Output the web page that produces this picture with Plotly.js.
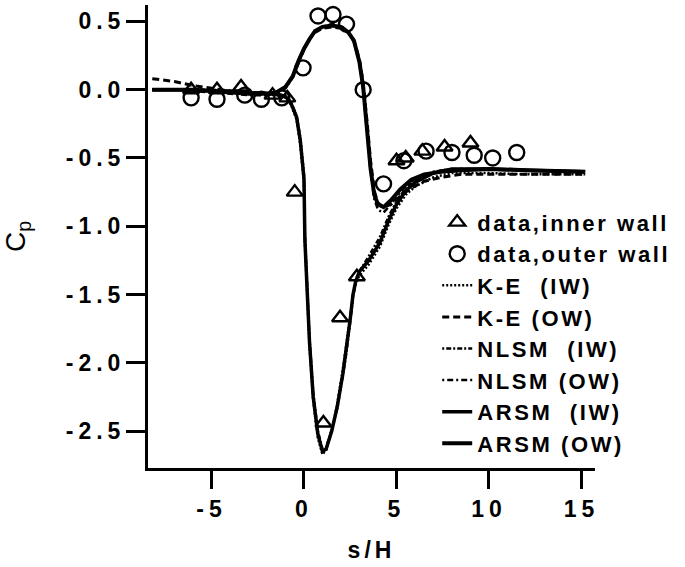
<!DOCTYPE html>
<html>
<head>
<meta charset="utf-8">
<script src="https://cdn.plot.ly/plotly-3.0.1.min.js"></script>
<style>
  html, body { margin: 0; padding: 0; background: #fff; }
  #chart { width: 685px; height: 567px; }
  .xtick text, .ytick text { letter-spacing: 5px; }
  .legendtext { letter-spacing: 2.6px; }
  .xtitle { letter-spacing: 4px; }
</style>
</head>
<body>
<div id="chart"></div>
<script>
// ---- data ----
// outer wall (OW) model curves
const sOW = [-8.2,-7,-6,-5,-4,-3,-2,-1.5,-1,-0.6,-0.3,0,0.3,0.6,1.0,1.5,2.0,2.4,2.7,3.0,3.2,3.4,3.6,3.8,4.0,4.3,4.7,5.2,5.8,6.5,7.5,8.5,10,12,15.2];
const cpKE_OW   = [0.08,0.06,0.03,0.01,-0.01,-0.02,-0.03,-0.02,0.02,0.10,0.21,0.30,0.37,0.42,0.45,0.46,0.45,0.42,0.36,0.22,0.05,-0.22,-0.52,-0.74,-0.83,-0.86,-0.84,-0.78,-0.72,-0.67,-0.64,-0.62,-0.62,-0.62,-0.62];
const cpNLSM_OW = [0.0,0.0,-0.01,-0.02,-0.03,-0.04,-0.04,-0.03,0.01,0.09,0.19,0.29,0.37,0.43,0.46,0.48,0.47,0.42,0.35,0.19,0.0,-0.30,-0.60,-0.80,-0.88,-0.90,-0.84,-0.75,-0.67,-0.62,-0.59,-0.58,-0.58,-0.59,-0.60];
const cpARSM_OW = [0.0,0.0,0.0,-0.01,-0.02,-0.03,-0.03,-0.02,0.02,0.10,0.21,0.30,0.37,0.43,0.46,0.47,0.46,0.42,0.36,0.20,0.02,-0.26,-0.58,-0.77,-0.84,-0.86,-0.81,-0.73,-0.66,-0.62,-0.60,-0.59,-0.58,-0.59,-0.60];

// inner wall (IW) model curves
const sIW = [-8.2,-7,-6,-5,-4,-3,-2,-1.5,-1,-0.7,-0.4,-0.2,0,0.05,0.15,0.3,0.5,0.75,1.0,1.2,1.5,1.8,2.1,2.3,2.5,2.65,2.8,3.0,3.5,4.1,4.6,5.0,5.5,6.0,7.0,8.0,10,12,15.2];
const cpKE_IW   = [0.0,0.0,0.0,-0.01,-0.02,-0.03,-0.04,-0.04,-0.06,-0.11,-0.22,-0.40,-0.68,-1.12,-1.42,-1.88,-2.28,-2.55,-2.67,-2.64,-2.50,-2.30,-2.05,-1.87,-1.66,-1.50,-1.42,-1.36,-1.28,-1.15,-0.98,-0.87,-0.77,-0.71,-0.64,-0.61,-0.61,-0.62,-0.62];
const cpNLSM_IW = [0.0,0.0,0.0,0.0,-0.01,-0.02,-0.03,-0.03,-0.04,-0.09,-0.19,-0.35,-0.62,-1.06,-1.37,-1.82,-2.22,-2.50,-2.63,-2.62,-2.49,-2.33,-2.10,-1.92,-1.70,-1.52,-1.41,-1.33,-1.22,-1.08,-0.92,-0.82,-0.72,-0.66,-0.60,-0.58,-0.58,-0.59,-0.60];
const cpARSM_IW = [0.0,0.0,0.0,-0.01,-0.01,-0.02,-0.03,-0.03,-0.05,-0.10,-0.20,-0.37,-0.65,-1.10,-1.40,-1.85,-2.25,-2.52,-2.65,-2.63,-2.50,-2.32,-2.08,-1.90,-1.68,-1.50,-1.40,-1.33,-1.25,-1.12,-0.95,-0.84,-0.74,-0.68,-0.61,-0.58,-0.58,-0.59,-0.60];

// measured data
const sInnerData  = [-6.1,-4.7,-3.4,-1.7,-0.9,-0.5,1.05,1.95,2.86,5.0,5.5,6.4,7.6,9.0];
const cpInnerData = [0.0,0.0,0.02,-0.04,-0.06,-0.75,-2.44,-1.67,-1.37,-0.52,-0.50,-0.45,-0.42,-0.39];
const sOuterData  = [-6.1,-4.7,-3.2,-2.3,-1.2,-0.05,0.76,1.57,2.3,3.2,4.3,5.4,6.6,8.0,9.2,10.2,11.5];
const cpOuterData = [-0.06,-0.07,-0.04,-0.07,-0.06,0.16,0.54,0.55,0.48,0.0,-0.69,-0.52,-0.45,-0.46,-0.48,-0.50,-0.46];

// axis ticks
const xTickVals = [-5, 0, 5, 10, 15];
const xTickText = ["-5", "0", "5", "10", "15"];
const yTickVals = [0.5, 0.0, -0.5, -1.0, -1.5, -2.0, -2.5];
const yTickText = ["0.5", "0.0", "-0.5", "-1.0", "-1.5", "-2.0", "-2.5"];

// legend labels
const names = ["data,inner wall", "data,outer wall", "K-E  (IW)", "K-E (OW)", "NLSM  (IW)", "NLSM (OW)", "ARSM  (IW)", "ARSM (OW)"];

const FONT = "Liberation Sans, Arial, Helvetica, sans-serif";

const traces = [
  {x: sIW, y: cpKE_IW, mode: "lines", name: names[2], legendrank: 3,
   line: {color: "#000", width: 2.5, dash: "2px,2px"}},
  {x: sOW, y: cpKE_OW, mode: "lines", name: names[3], legendrank: 4,
   line: {color: "#000", width: 3, dash: "7px,4px"}},
  {x: sIW, y: cpNLSM_IW, mode: "lines", name: names[4], legendrank: 5,
   line: {color: "#000", width: 2.5, dash: "2px,2px,5px,2px"}},
  {x: sOW, y: cpNLSM_OW, mode: "lines", name: names[5], legendrank: 6,
   line: {color: "#000", width: 2.5, dash: "2px,3px,6px,3px"}},
  {x: sIW, y: cpARSM_IW, mode: "lines", name: names[6], legendrank: 7,
   line: {color: "#000", width: 3.5}},
  {x: sOW, y: cpARSM_OW, mode: "lines", name: names[7], legendrank: 8,
   line: {color: "#000", width: 4}},
  {x: sInnerData, y: cpInnerData, mode: "markers", name: names[0], legendrank: 1,
   marker: {symbol: "triangle-up-open", size: 14, color: "#000", line: {width: 2.4, color: "#000"}}},
  {x: sOuterData, y: cpOuterData, mode: "markers", name: names[1], legendrank: 2,
   marker: {symbol: "circle-open", size: 15, color: "#000", line: {width: 2.4, color: "#000"}}}
];

const layout = {
  width: 685, height: 567,
  paper_bgcolor: "#fff", plot_bgcolor: "#fff",
  margin: {l: 148, r: 90, t: 5, b: 99},
  font: {family: FONT, size: 22, color: "#000", weight: "bold"},
  showlegend: true,
  legend: {
    x: 0.647, y: 0.576, xanchor: "left", yanchor: "top",
    bgcolor: "rgba(0,0,0,0)", borderwidth: 0,
    font: {family: FONT, size: 22, color: "#000", weight: "bold"},
    tracegroupgap: 0
  },
  xaxis: {
    range: [-8.43, 15.73],
    showgrid: false, zeroline: false,
    showline: true, linecolor: "#000", linewidth: 3,
    ticks: "outside", ticklen: 18, tickwidth: 3, tickcolor: "#000",
    tickvals: xTickVals, ticktext: xTickText,
    tickfont: {family: FONT, size: 23, color: "#000", weight: "bold"},
    title: {text: "s/H", font: {family: FONT, size: 23, color: "#000", weight: "bold"}, standoff: 22}
  },
  yaxis: {
    range: [-2.77, 0.62],
    showgrid: false, zeroline: false,
    showline: true, linecolor: "#000", linewidth: 3,
    ticks: "outside", ticklen: 19, tickwidth: 3, tickcolor: "#000",
    ticklabelstandoff: -4,
    tickvals: yTickVals, ticktext: yTickText,
    tickfont: {family: FONT, size: 23, color: "#000", weight: "bold"},
    title: {text: "C<sub>p</sub>", font: {family: FONT, size: 28, color: "#000", weight: "normal"}, standoff: 32}
  }
};

Plotly.newPlot("chart", traces, layout, {displayModeBar: false, staticPlot: true});
</script>
</body>
</html>
